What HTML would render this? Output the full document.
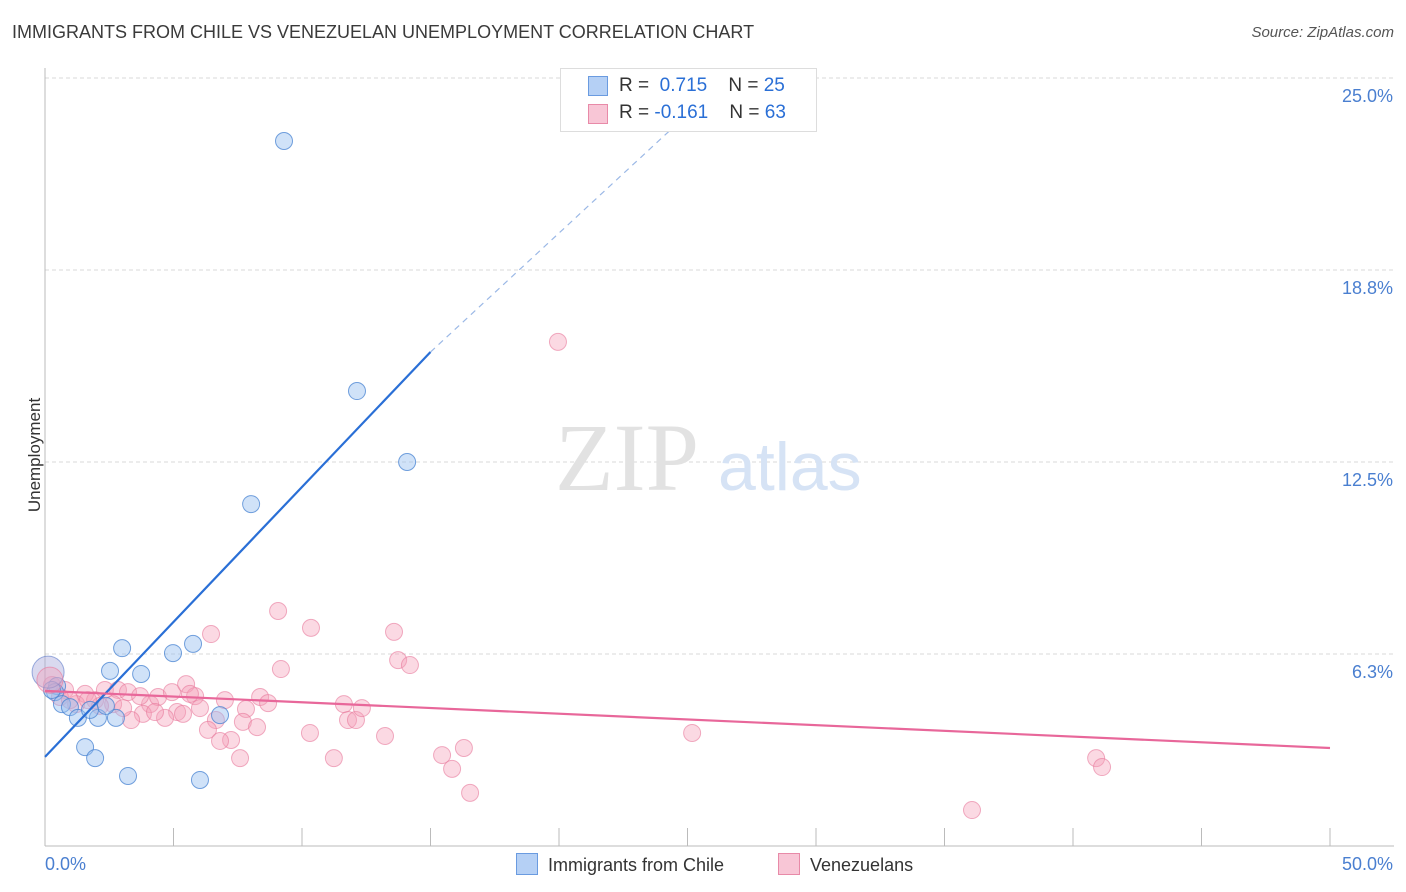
<!DOCTYPE html>
<html><head><meta charset="utf-8"><style>
body{margin:0;background:#fff;font-family:"Liberation Sans",sans-serif;}
#wrap{position:relative;width:1406px;height:892px;overflow:hidden}
.t{position:absolute;white-space:nowrap}
</style></head><body><div id="wrap">
<div class="t" style="left:12px;top:22px;font-size:18px;color:#3a3a3a">IMMIGRANTS FROM CHILE VS VENEZUELAN UNEMPLOYMENT CORRELATION CHART</div>
<div class="t" style="right:12px;top:24px;font-size:15px;color:#555;font-style:italic">Source: ZipAtlas.com</div>
<div class="t" style="left:-22px;top:445px;font-size:17px;color:#333;transform:rotate(-90deg)">Unemployment</div>
<svg id="svg" width="1406" height="892" style="position:absolute;left:0;top:0"></svg>
</div>
<script>
const xTicksPct=[0,50];
const yTicks=[6.25,12.5,18.75,25];
const yTickLabels=["6.3%","12.5%","18.8%","25.0%"];
const blueX=[9.30,12.14,14.09,8.02,3.00,5.76,4.98,2.53,3.74,0.47,0.39,0.66,0.97,1.28,2.06,2.76,2.37,6.81,1.56,1.95,3.23,6.03,0.27,1.75];
const blueY=[22.95,14.81,12.50,11.13,6.44,6.58,6.28,5.70,5.60,5.21,5.01,4.62,4.52,4.17,4.17,4.17,4.56,4.26,3.22,2.86,2.28,2.15,5.08,4.43];
const pinkX=[19.96,9.07,10.35,13.58,6.46,13.74,14.20,9.18,0.27,0.78,0.58,1.56,1.95,2.33,2.84,3.23,2.65,2.14,1.21,4.09,4.40,4.94,5.49,5.84,5.64,5.14,5.37,6.03,3.81,3.35,4.67,6.65,7.82,8.37,8.68,7.70,8.25,6.34,7.24,6.81,7.59,10.31,11.24,11.63,11.79,12.10,12.33,13.23,15.45,15.84,16.30,16.54,25.18,40.90,41.13,36.07,0.97,3.04,3.70,7.00,1.67,4.28];
const pinkY=[16.41,7.65,7.10,6.97,6.90,6.05,5.89,5.76,5.24,5.08,4.85,4.95,4.75,5.08,5.08,5.01,4.62,4.56,4.62,4.62,4.85,5.01,5.27,4.88,4.95,4.36,4.30,4.49,4.30,4.10,4.17,4.10,4.46,4.85,4.65,4.04,3.87,3.78,3.45,3.42,2.86,3.68,2.86,4.62,4.10,4.10,4.49,3.58,2.96,2.51,3.19,1.73,3.68,2.86,2.57,1.17,4.75,4.49,4.88,4.75,4.75,4.36];
const blueBig=[0.12,5.66], pinkBig=[0.19,5.40];
const blueTrend=[[0,2.90],[15,16.08],[25.1,23.9]];
const pinkTrend=[[0,5.05],[50,3.19]];
const X=v=>45+v/50*1285, Y=v=>846-v/6.25*192;
const s=document.getElementById('svg');const NS='http://www.w3.org/2000/svg';
function el(t,a,p){const e=document.createElementNS(NS,t);for(const k in a)e.setAttribute(k,a[k]);(p||s).appendChild(e);return e;}
for(let i=0;i<yTicks.length;i++){
 const g=el('line',{x1:45,x2:1394,y1:Y(yTicks[i]),y2:Y(yTicks[i]),stroke:'#d8d8d8','stroke-dasharray':'4,3'});
 
 
 const t=el('text',{x:1393,y:Y(yTicks[i])+24,'text-anchor':'end','font-size':18,fill:'#4a7fd0'});t.textContent=yTickLabels[i];
 
 
}
el('line',{x1:45,x2:45,y1:68,y2:846,stroke:'#bbb'});
el('line',{x1:45,x2:1394,y1:846,y2:846,stroke:'#bbb'});
for(let v=0;v<=50;v+=5){const l=el('line',{x1:X(v),x2:X(v),y1:828,y2:846,stroke:'#bbb'});
 
 }
const xl=[["0.0%",45,"start"],["50.0%",1393,"end"]];
xl.forEach(a=>{const t=el('text',{x:a[1],y:870,'text-anchor':a[2],'font-size':18,fill:'#4a7fd0'});t.textContent=a[0];
 
 });
const wm=el('text',{x:555,y:490,'font-size':96,fill:'#e2e2e2','font-family':'Liberation Serif'});wm.textContent='ZIP';


const wm2=el('text',{x:718,y:490,'font-size':68,fill:'#d6e3f5'});wm2.textContent='atlas';


for(let i=0;i<pinkX.length;i++){const c=el('circle',{cx:X(pinkX[i]),cy:Y(pinkY[i]),r:8.5,fill:'rgba(244,160,186,0.4)',stroke:'rgba(232,120,155,0.6)','stroke-width':1});
 
 }
for(let i=0;i<blueX.length;i++){const c=el('circle',{cx:X(blueX[i]),cy:Y(blueY[i]),r:8.5,fill:'rgba(150,190,240,0.45)',stroke:'rgba(70,130,210,0.75)','stroke-width':1});
 
 }
const bb=el('circle',{cx:X(blueBig[0]),cy:Y(blueBig[1]),r:16,fill:'rgba(170,170,220,0.45)',stroke:'rgba(90,120,200,0.6)'});


const pb=el('circle',{cx:X(pinkBig[0]),cy:Y(pinkBig[1]),r:13,fill:'rgba(244,160,186,0.4)',stroke:'rgba(232,120,155,0.6)'});


const bl=el('line',{x1:X(blueTrend[0][0]),y1:Y(blueTrend[0][1]),x2:X(blueTrend[1][0]),y2:Y(blueTrend[1][1]),stroke:'#2a6fd6','stroke-width':2.2});


const bd=el('line',{x1:X(blueTrend[1][0]),y1:Y(blueTrend[1][1]),x2:X(blueTrend[2][0]),y2:Y(blueTrend[2][1]),stroke:'#9bb8e6','stroke-width':1.2,'stroke-dasharray':'6,5'});


const pl=el('line',{x1:X(pinkTrend[0][0]),y1:Y(pinkTrend[0][1]),x2:X(pinkTrend[1][0]),y2:Y(pinkTrend[1][1]),stroke:'#e8679a','stroke-width':2.2});


</script>
<div class="t" style="left:560px;top:68px;width:255px;height:62px;border:1px solid #ddd;background:#fff;font-size:19px;color:#333">
 <div style="position:absolute;left:27px;top:7px;width:18px;height:18px;background:#b5d0f5;border:1px solid #6a9be0"></div>
 <div style="position:absolute;left:58px;top:6px">R = &nbsp;<span style="color:#2a6fd6">0.715</span>&nbsp;&nbsp;&nbsp; N = <span style="color:#2a6fd6">25</span></div>
 <div style="position:absolute;left:27px;top:35px;width:18px;height:18px;background:#f8c6d6;border:1px solid #e88aa8"></div>
 <div style="position:absolute;left:58px;top:33px">R = <span style="color:#2a6fd6">-0.161</span>&nbsp;&nbsp;&nbsp; N = <span style="color:#2a6fd6">63</span></div>
</div>
<div class="t" style="left:516px;top:853px;font-size:18px;color:#333"><span style="display:inline-block;width:20px;height:20px;background:#b5d0f5;border:1px solid #6a9be0;vertical-align:-4px;margin-right:10px"></span>Immigrants from Chile</div>
<div class="t" style="left:778px;top:853px;font-size:18px;color:#333"><span style="display:inline-block;width:20px;height:20px;background:#f8c6d6;border:1px solid #e88aa8;vertical-align:-4px;margin-right:10px"></span>Venezuelans</div>
</body></html>
